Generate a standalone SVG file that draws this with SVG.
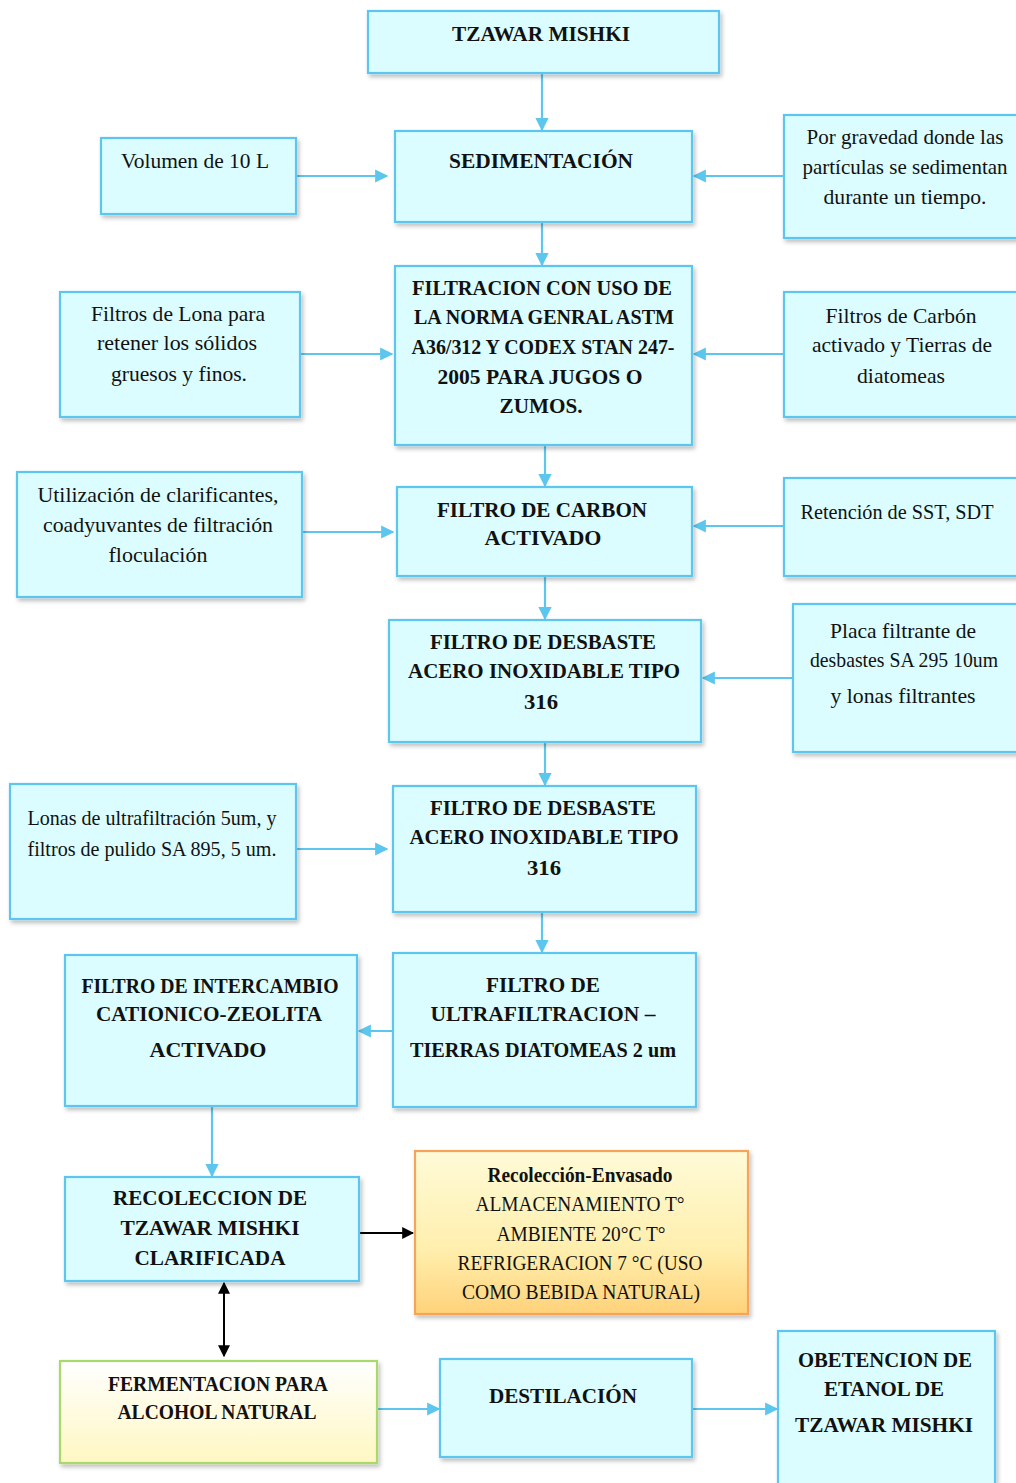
<svg xmlns="http://www.w3.org/2000/svg" width="1016" height="1483" viewBox="0 0 1016 1483" font-family="Liberation Serif, DejaVu Serif, Times New Roman, serif">
<style>
.b{fill:#dbfdff;stroke:#5cc6ee;stroke-width:2.2}
.t{font-size:21px;fill:#111;text-anchor:middle}
.h{font-weight:bold}
.c{stroke:#5cc6ee;stroke-width:2.2;fill:none}
.k{stroke:#000;stroke-width:2;fill:none}
</style>
<defs>
<filter id="sh" x="-10%" y="-10%" width="130%" height="130%"><feDropShadow dx="2" dy="3" stdDeviation="2" flood-color="#000" flood-opacity="0.25"/></filter>
<marker id="ab" viewBox="0 0 10 10" refX="9" refY="5" markerWidth="6" markerHeight="6" orient="auto" markerUnits="strokeWidth"><path d="M0,0 L10,5 L0,10 z" fill="#5cc6ee"/></marker>
<marker id="ak" viewBox="0 0 10 10" refX="9" refY="5" markerWidth="6" markerHeight="6" orient="auto-start-reverse" markerUnits="strokeWidth"><path d="M0,0 L10,5 L0,10 z" fill="#000"/></marker>
<linearGradient id="go" x1="0" y1="0" x2="0" y2="1"><stop offset="0" stop-color="#fffbd8"/><stop offset="0.6" stop-color="#ffefae"/><stop offset="1" stop-color="#ffd27a"/></linearGradient>
<linearGradient id="gg" x1="0" y1="0" x2="0" y2="1"><stop offset="0" stop-color="#ffffff"/><stop offset="1" stop-color="#fff7c2"/></linearGradient>
</defs>

<g id="connectors">
<line class="c" x1="542" y1="73" x2="542" y2="130" marker-end="url(#ab)"/>
<line class="c" x1="296" y1="176" x2="387" y2="176" marker-end="url(#ab)"/>
<line class="c" x1="784" y1="176" x2="694" y2="176" marker-end="url(#ab)"/>
<line class="c" x1="542" y1="222" x2="542" y2="265" marker-end="url(#ab)"/>
<line class="c" x1="300" y1="354" x2="392" y2="354" marker-end="url(#ab)"/>
<line class="c" x1="784" y1="354" x2="694" y2="354" marker-end="url(#ab)"/>
<line class="c" x1="545" y1="445" x2="545" y2="486" marker-end="url(#ab)"/>
<line class="c" x1="302" y1="532" x2="393" y2="532" marker-end="url(#ab)"/>
<line class="c" x1="784" y1="526" x2="694" y2="526" marker-end="url(#ab)"/>
<line class="c" x1="545" y1="576" x2="545" y2="619" marker-end="url(#ab)"/>
<line class="c" x1="793" y1="678" x2="703" y2="678" marker-end="url(#ab)"/>
<line class="c" x1="545" y1="742" x2="545" y2="785" marker-end="url(#ab)"/>
<line class="c" x1="296" y1="849" x2="387" y2="849" marker-end="url(#ab)"/>
<line class="c" x1="542" y1="912" x2="542" y2="952" marker-end="url(#ab)"/>
<line class="c" x1="393" y1="1031" x2="359" y2="1031" marker-end="url(#ab)"/>
<line class="c" x1="212" y1="1106" x2="212" y2="1176" marker-end="url(#ab)"/>
<line class="k" x1="359" y1="1233" x2="413" y2="1233" marker-end="url(#ak)"/>
<line class="k" x1="224" y1="1283" x2="224" y2="1356" marker-start="url(#ak)" marker-end="url(#ak)"/>
<line class="c" x1="377" y1="1409" x2="439" y2="1409" marker-end="url(#ab)"/>
<line class="c" x1="692" y1="1409" x2="777" y2="1409" marker-end="url(#ab)"/>
</g>

<g id="n1"><rect class="b" filter="url(#sh)" x="368" y="11" width="351" height="62"/>
<text class="t h" x="541" y="41" textLength="178" lengthAdjust="spacingAndGlyphs">TZAWAR MISHKI</text></g>

<g id="n2"><rect class="b" filter="url(#sh)" x="395" y="131" width="297" height="91"/>
<text class="t h" x="541" y="168" textLength="184" lengthAdjust="spacingAndGlyphs">SEDIMENTACIÓN</text></g>

<g id="n3"><rect class="b" filter="url(#sh)" x="101" y="138" width="195" height="76"/>
<text class="t" x="195" y="168" textLength="148" lengthAdjust="spacingAndGlyphs">Volumen de 10 L</text></g>

<g id="n4"><rect class="b" filter="url(#sh)" x="784" y="115" width="236" height="123"/>
<text class="t" x="905" y="144" textLength="197" lengthAdjust="spacingAndGlyphs">Por gravedad donde las</text>
<text class="t" x="905" y="174" textLength="205" lengthAdjust="spacingAndGlyphs">partículas se sedimentan</text>
<text class="t" x="905" y="204" textLength="163" lengthAdjust="spacingAndGlyphs">durante un tiempo.</text></g>

<g id="n5"><rect class="b" filter="url(#sh)" x="395" y="266" width="297" height="179"/>
<text class="t h" x="542" y="295" textLength="260" lengthAdjust="spacingAndGlyphs">FILTRACION CON USO DE</text>
<text class="t h" x="544" y="324" textLength="260" lengthAdjust="spacingAndGlyphs">LA NORMA GENRAL ASTM</text>
<text class="t h" x="543" y="354" textLength="263" lengthAdjust="spacingAndGlyphs">A36/312 Y CODEX STAN 247-</text>
<text class="t h" x="540" y="384" textLength="205" lengthAdjust="spacingAndGlyphs">2005 PARA JUGOS O</text>
<text class="t h" x="541" y="413" textLength="83" lengthAdjust="spacingAndGlyphs">ZUMOS.</text></g>

<g id="n6"><rect class="b" filter="url(#sh)" x="60" y="292" width="240" height="125"/>
<text class="t" x="178" y="321" textLength="174" lengthAdjust="spacingAndGlyphs">Filtros de Lona para</text>
<text class="t" x="177" y="350" textLength="160" lengthAdjust="spacingAndGlyphs">retener los sólidos</text>
<text class="t" x="179" y="381" textLength="136" lengthAdjust="spacingAndGlyphs">gruesos y finos.</text></g>

<g id="n7"><rect class="b" filter="url(#sh)" x="784" y="292" width="236" height="125"/>
<text class="t" x="901" y="323" textLength="151" lengthAdjust="spacingAndGlyphs">Filtros de Carbón</text>
<text class="t" x="902" y="352" textLength="180" lengthAdjust="spacingAndGlyphs">activado y Tierras de</text>
<text class="t" x="901" y="383" textLength="88" lengthAdjust="spacingAndGlyphs">diatomeas</text></g>

<g id="n8"><rect class="b" filter="url(#sh)" x="397" y="487" width="295" height="89"/>
<text class="t h" x="542" y="517" textLength="210" lengthAdjust="spacingAndGlyphs">FILTRO DE CARBON</text>
<text class="t h" x="543" y="545" textLength="117" lengthAdjust="spacingAndGlyphs">ACTIVADO</text></g>

<g id="n9"><rect class="b" filter="url(#sh)" x="17" y="472" width="285" height="125"/>
<text class="t" x="158" y="502" textLength="241" lengthAdjust="spacingAndGlyphs">Utilización de clarificantes,</text>
<text class="t" x="158" y="532" textLength="230" lengthAdjust="spacingAndGlyphs">coadyuvantes de filtración</text>
<text class="t" x="158" y="562" textLength="99" lengthAdjust="spacingAndGlyphs">floculación</text></g>

<g id="n10"><rect class="b" filter="url(#sh)" x="784" y="478" width="236" height="98"/>
<text class="t" x="897" y="519" textLength="193" lengthAdjust="spacingAndGlyphs">Retención de SST, SDT</text></g>

<g id="n11"><rect class="b" filter="url(#sh)" x="389" y="620" width="312" height="122"/>
<text class="t h" x="543" y="649" textLength="226" lengthAdjust="spacingAndGlyphs">FILTRO DE DESBASTE</text>
<text class="t h" x="544" y="678" textLength="272" lengthAdjust="spacingAndGlyphs">ACERO INOXIDABLE TIPO</text>
<text class="t h" x="541" y="709" textLength="34" lengthAdjust="spacingAndGlyphs">316</text></g>

<g id="n12"><rect class="b" filter="url(#sh)" x="793" y="604" width="227" height="148"/>
<text class="t" x="903" y="638" textLength="146" lengthAdjust="spacingAndGlyphs">Placa filtrante de</text>
<text class="t" x="904" y="667" textLength="188" lengthAdjust="spacingAndGlyphs">desbastes SA 295 10um</text>
<text class="t" x="903" y="703" textLength="145" lengthAdjust="spacingAndGlyphs">y lonas filtrantes</text></g>

<g id="n13"><rect class="b" filter="url(#sh)" x="393" y="786" width="303" height="126"/>
<text class="t h" x="543" y="815" textLength="226" lengthAdjust="spacingAndGlyphs">FILTRO DE DESBASTE</text>
<text class="t h" x="544" y="844" textLength="269" lengthAdjust="spacingAndGlyphs">ACERO INOXIDABLE TIPO</text>
<text class="t h" x="544" y="875" textLength="34" lengthAdjust="spacingAndGlyphs">316</text></g>

<g id="n14"><rect class="b" filter="url(#sh)" x="10" y="784" width="286" height="135"/>
<text class="t" x="152" y="825" textLength="249" lengthAdjust="spacingAndGlyphs">Lonas de ultrafiltración 5um, y</text>
<text class="t" x="152" y="856" textLength="249" lengthAdjust="spacingAndGlyphs">filtros de pulido SA 895, 5 um.</text></g>

<g id="n15"><rect class="b" filter="url(#sh)" x="393" y="953" width="303" height="154"/>
<text class="t h" x="543" y="992" textLength="114" lengthAdjust="spacingAndGlyphs">FILTRO DE</text>
<text class="t h" x="543" y="1021" textLength="225" lengthAdjust="spacingAndGlyphs">ULTRAFILTRACION –</text>
<text class="t h" x="543" y="1057" textLength="266" lengthAdjust="spacingAndGlyphs">TIERRAS DIATOMEAS 2 um</text></g>

<g id="n16"><rect class="b" filter="url(#sh)" x="65" y="955" width="292" height="151"/>
<text class="t h" x="210" y="993" textLength="257" lengthAdjust="spacingAndGlyphs">FILTRO DE INTERCAMBIO</text>
<text class="t h" x="209" y="1021" textLength="226" lengthAdjust="spacingAndGlyphs">CATIONICO-ZEOLITA</text>
<text class="t h" x="208" y="1057" textLength="117" lengthAdjust="spacingAndGlyphs">ACTIVADO</text></g>

<g id="n17"><rect class="b" filter="url(#sh)" x="65" y="1177" width="294" height="104"/>
<text class="t h" x="210" y="1205" textLength="194" lengthAdjust="spacingAndGlyphs">RECOLECCION DE</text>
<text class="t h" x="210" y="1235" textLength="179" lengthAdjust="spacingAndGlyphs">TZAWAR MISHKI</text>
<text class="t h" x="210" y="1265" textLength="151" lengthAdjust="spacingAndGlyphs">CLARIFICADA</text></g>

<g id="n18"><rect filter="url(#sh)" x="415" y="1151" width="333" height="163" fill="url(#go)" stroke="#f7a35a" stroke-width="2.2"/>
<text class="t h" x="580" y="1182" textLength="185" lengthAdjust="spacingAndGlyphs">Recolección-Envasado</text>
<text class="t" x="580" y="1211" textLength="209" lengthAdjust="spacingAndGlyphs">ALMACENAMIENTO T°</text>
<text class="t" x="581" y="1241" textLength="169" lengthAdjust="spacingAndGlyphs">AMBIENTE 20°C T°</text>
<text class="t" x="580" y="1270" textLength="245" lengthAdjust="spacingAndGlyphs">REFRIGERACION 7 °C (USO</text>
<text class="t" x="581" y="1299" textLength="238" lengthAdjust="spacingAndGlyphs">COMO BEBIDA NATURAL)</text></g>

<g id="n19"><rect filter="url(#sh)" x="60" y="1361" width="317" height="102" fill="url(#gg)" stroke="#a9d86c" stroke-width="2.2"/>
<text class="t h" x="218" y="1391" textLength="220" lengthAdjust="spacingAndGlyphs">FERMENTACION PARA</text>
<text class="t h" x="217" y="1419" textLength="199" lengthAdjust="spacingAndGlyphs">ALCOHOL NATURAL</text></g>

<g id="n20"><rect class="b" filter="url(#sh)" x="440" y="1359" width="252" height="98"/>
<text class="t h" x="563" y="1403" textLength="148" lengthAdjust="spacingAndGlyphs">DESTILACIÓN</text></g>

<g id="n21"><rect class="b" filter="url(#sh)" x="778" y="1331" width="217" height="160"/>
<text class="t h" x="885" y="1367" textLength="174" lengthAdjust="spacingAndGlyphs">OBETENCION DE</text>
<text class="t h" x="884" y="1396" textLength="120" lengthAdjust="spacingAndGlyphs">ETANOL DE</text>
<text class="t h" x="884" y="1432" textLength="178" lengthAdjust="spacingAndGlyphs">TZAWAR MISHKI</text></g>
</svg>
